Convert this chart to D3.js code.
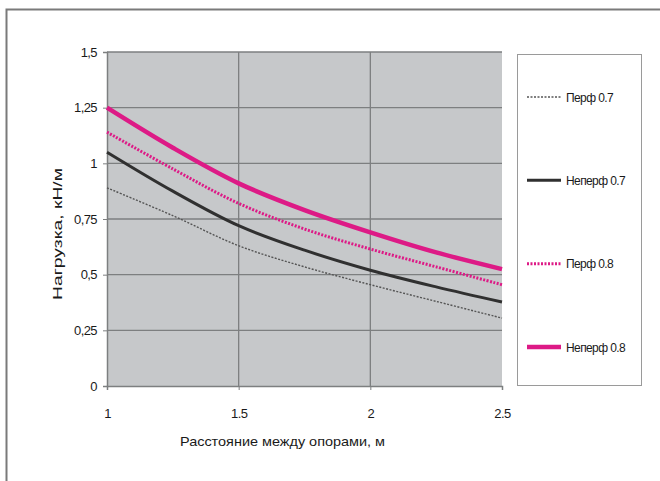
<!DOCTYPE html>
<html>
<head>
<meta charset="utf-8">
<script src="https://cdn.jsdelivr.net/npm/d3@7"></script>
<style>
  body { margin: 0; background: #fff; }
  text { font-family: "Liberation Sans Narrow", "Liberation Sans", Arial, sans-serif; fill: #1a1a1a; }
</style>
</head>
<body>
<script>
// data
let spans = [1, 1.25, 1.5, 1.75, 2, 2.25, 2.5];
let perf07 = [0.89, 0.765, 0.63, 0.535, 0.455, 0.38, 0.305];
let neperf07 = [1.05, 0.875, 0.72, 0.61, 0.52, 0.445, 0.377];
let perf08 = [1.14, 0.975, 0.82, 0.705, 0.615, 0.535, 0.455];
let neperf08 = [1.25, 1.07, 0.91, 0.79, 0.69, 0.60, 0.525];
let seriesNames = ['Перф 0.7', 'Неперф 0.7', 'Перф 0.8', 'Неперф 0.8'];
let xTicks = [1, 1.5, 2, 2.5];
let yTicks = [0, 0.25, 0.5, 0.75, 1, 1.25, 1.5];

let width = 660, height = 481;
let magenta = '#dd1a86';

let styles = [
  { color: '#555', w: 1.4, dash: '2,1.5' },
  { color: '#303030', w: 3, dash: null },
  { color: magenta, w: 3, dash: '2,1.5' },
  { color: magenta, w: 4.5, dash: null }
];
let allSeries = [perf07, neperf07, perf08, neperf08];

let svg = d3.select('body').append('svg')
  .attr('width', width)
  .attr('height', height);

// outer chart frame (cut off at right and bottom)
svg.append('rect')
  .attr('x', 6.5).attr('y', 9.5)
  .attr('width', 700).attr('height', 500)
  .attr('fill', '#fff')
  .attr('stroke', '#7a7a7a')
  .attr('stroke-width', 2);

let x = d3.scaleLinear().domain([1, 2.5]).range([107, 502]);
let y = d3.scaleLinear().domain([0, 1.5]).range([386, 52]);

// plot area
svg.append('rect')
  .attr('x', x(1)).attr('y', y(1.5))
  .attr('width', x(2.5) - x(1)).attr('height', y(0) - y(1.5))
  .attr('fill', '#c6c8ca');

// grid
svg.append('g').selectAll('line').data(yTicks.slice(1)).join('line')
  .attr('x1', x(1)).attr('x2', x(2.5))
  .attr('y1', (d) => y(d)).attr('y2', (d) => y(d))
  .attr('stroke', '#7d7f80').attr('stroke-width', 1.3);
svg.append('g').selectAll('line').data([1.5, 2]).join('line')
  .attr('x1', (d) => x(d)).attr('x2', (d) => x(d))
  .attr('y1', y(0)).attr('y2', y(1.5))
  .attr('stroke', '#7d7f80').attr('stroke-width', 1.3);

// axes
let yAxis = d3.axisLeft(y).tickValues(yTicks).tickSize(4).tickPadding(6)
  .tickFormat((d) => String(d).replace('.', ','));
let gy = svg.append('g').attr('transform', `translate(${x(1)},0)`).call(yAxis);
let xAxis = d3.axisBottom(x).tickValues(xTicks).tickSize(4).tickPadding(19)
  .tickFormat((d) => String(d));
let gx = svg.append('g').attr('transform', `translate(0,${y(0)})`).call(xAxis);
[gx, gy].forEach((g) => {
  g.select('.domain').attr('stroke', '#7d7f80').attr('stroke-width', 1.5);
  g.selectAll('.tick line').attr('stroke', '#7d7f80');
  g.selectAll('.tick text').attr('font-size', 13).attr('fill', '#444')
    .attr('letter-spacing', -0.6)
    .attr('font-family', '"Liberation Sans Narrow", "Liberation Sans", sans-serif');
});

// lines
let line = d3.line()
  .x((d, i) => x(spans[i]))
  .y((d) => y(d))
  .curve(d3.curveCatmullRom.alpha(0.5));

allSeries.forEach((s, i) => {
  svg.append('path')
    .datum(s)
    .attr('d', line)
    .attr('fill', 'none')
    .attr('stroke', styles[i].color)
    .attr('stroke-width', styles[i].w)
    .attr('stroke-dasharray', styles[i].dash);
});

// axis titles
svg.append('text')
  .attr('x', 180).attr('y', 446)
  .attr('font-size', 13)
  .attr('textLength', 205)
  .attr('lengthAdjust', 'spacingAndGlyphs')
  .text('Расстояние между опорами, м');

svg.append('text')
  .attr('transform', 'translate(62,300) rotate(-90)')
  .attr('font-size', 12)
  .attr('textLength', 132)
  .attr('lengthAdjust', 'spacingAndGlyphs')
  .text('Нагрузка, кН/м');

// legend
svg.append('rect')
  .attr('x', 517.5).attr('y', 54.5)
  .attr('width', 124).attr('height', 331)
  .attr('fill', '#fff')
  .attr('stroke', '#9a9a9a');

let legendY = d3.scalePoint().domain(seriesNames).range([97, 347]);
seriesNames.forEach((name, i) => {
  let ly = legendY(name);
  svg.append('line')
    .attr('x1', 527).attr('x2', 561)
    .attr('y1', ly).attr('y2', ly)
    .attr('stroke', styles[i].color)
    .attr('stroke-width', styles[i].w)
    .attr('stroke-dasharray', styles[i].dash);
  svg.append('text')
    .attr('x', 566).attr('y', ly + 4.5)
    .attr('font-size', 12)
    .attr('letter-spacing', -0.6)
    .text(name);
});
</script>
</body>
</html>
